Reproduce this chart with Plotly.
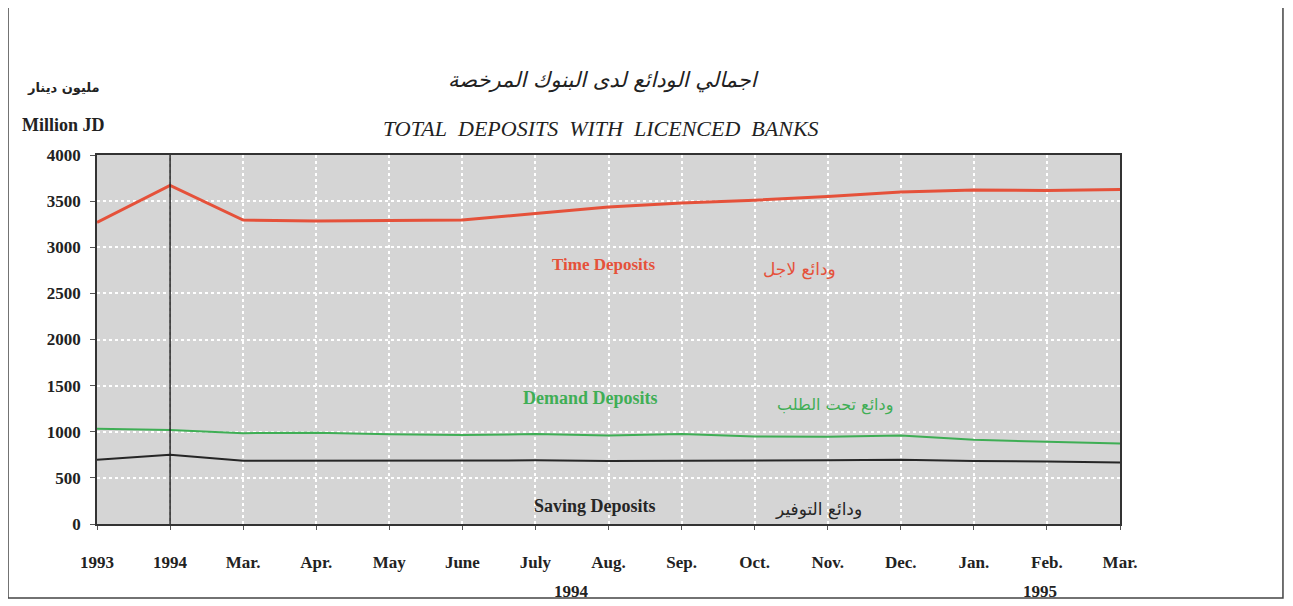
import plotly.graph_objects as go

months = ["1993", "1994", "Mar.", "Apr.", "May", "June", "July", "Aug.",
          "Sep.", "Oct.", "Nov.", "Dec.", "Jan.", "Feb.", "Mar."]
time_dep = [3270, 3670, 3295, 3285, 3290, 3295, 3365, 3435, 3480, 3510,
            3550, 3600, 3620, 3615, 3625]
demand_dep = [1032, 1018, 985, 990, 972, 965, 975, 960, 975, 948,
              945, 958, 912, 890, 872]
saving_dep = [697, 750, 685, 688, 692, 695, 690, 684, 684, 690,
              690, 697, 682, 678, 668]
year_labels = [("1994", 6.5), ("1995", 12.9)]
yticks = [0, 500, 1000, 1500, 2000, 2500, 3000, 3500, 4000]

x = list(range(len(months)))
SERIF = "Liberation Serif"
AR = "DejaVu Sans"
NB = "\u00a0"

fig = go.Figure()
fig.add_trace(go.Scatter(x=x, y=time_dep, mode="lines", name="Time Deposits",
                         line=dict(color="#e5513a", width=3)))
fig.add_trace(go.Scatter(x=x, y=demand_dep, mode="lines", name="Demand Deposits",
                         line=dict(color="#3fae55", width=2)))
fig.add_trace(go.Scatter(x=x, y=saving_dep, mode="lines", name="Saving Deposits",
                         line=dict(color="#262626", width=2)))

fig.add_vline(x=1, line=dict(color="#222222", width=1.5))

fig.update_layout(
    width=1293, height=606,
    margin=dict(l=89, r=181, t=147, b=90),
    paper_bgcolor="white", plot_bgcolor="#d5d5d5",
    showlegend=False,
    font=dict(family=SERIF, color="#222222"),
)
fig.update_xaxes(
    range=[0, len(months) - 1], tickvals=x, ticktext=["<b>%s</b>" % m for m in months],
    showgrid=True, gridcolor="white", griddash="dot", gridwidth=1.5,
    showline=True, linecolor="#333333", linewidth=1.5, mirror=True,
    ticks="outside", ticklen=4, tickcolor="#555555",
    tickfont=dict(family=SERIF, size=17, color="#222222"),
    ticklabelstandoff=18, zeroline=False,
)
fig.update_yaxes(
    range=[0, 4000], tickvals=yticks, ticktext=["<b>%d</b>" % v for v in yticks],
    showgrid=True, gridcolor="white", griddash="dot", gridwidth=1.5,
    showline=True, linecolor="#333333", linewidth=1.5, mirror=True,
    ticks="outside", ticklen=5, tickcolor="#555555",
    tickfont=dict(family=SERIF, size=17, color="#222222"),
    ticklabelstandoff=6, zeroline=False,
)

# outer frame
fig.add_shape(type="rect", xref="paper", yref="paper",
              x0=-0.087, x1=1.1593, y0=-0.2005, y1=1.4065,
              line=dict(color="#444444", width=1.5), fillcolor="rgba(0,0,0,0)")


def A(text, x, y, xref="paper", yref="paper", family=SERIF, size=15, color="#222222"):
    return dict(text=text, x=x, y=y, xref=xref, yref=yref, showarrow=False,
                xanchor="center", yanchor="middle",
                font=dict(family=family, size=size, color=color))


ann = []
ann.append(A("<i>اجمالي الودائع لدى البنوك المرخصة</i>", 0.4956, 1.203, family=AR, size=21))
ann.append(A("<i>" + (NB * 2).join(["TOTAL", "DEPOSITS", "WITH", "LICENCED", "BANKS"]) + "</i>",
             0.4927, 1.073, size=22))
ann.append(A("<b>مليون دينار</b>", -0.0332, 1.184, family=AR, size=13))
ann.append(A("<b>Million JD</b>", -0.0332, 1.081, size=18))
for t, xi in year_labels:
    ann.append(A("<b>%s</b>" % t, xi, -0.182, xref="x", size=17))

series_labels = [
    ("Time Deposits", 6.93, 2810, "#e5513a", SERIF, 17),
    ("ودائع لاجل", 9.62, 2760, "#e5513a", AR, 17),
    ("Demand Deposits", 6.75, 1370, "#3fae55", SERIF, 18),
    ("ودائع تحت الطلب", 10.1, 1295, "#3fae55", AR, 16),
    ("Saving Deposits", 6.82, 195, "#262626", SERIF, 18),
    ("ودائع التوفير", 9.88, 162, "#262626", AR, 17),
]
for t, xi, yi, c, f, s in series_labels:
    ann.append(A("<b>%s</b>" % t if f == SERIF else t, xi, yi, xref="x", yref="y",
                 family=f, size=s, color=c))
fig.update_layout(annotations=ann)

fig.write_html("out.html")
